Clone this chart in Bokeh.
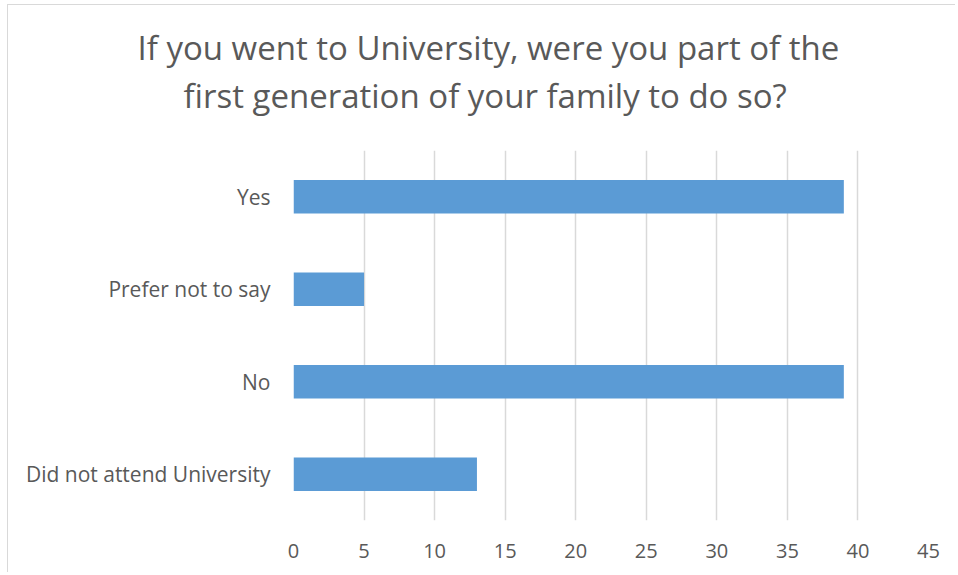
from bokeh.plotting import figure
from bokeh.models import FactorRange, Range1d, FixedTicker, Title
from bokeh.embed import file_html
from bokeh.resources import INLINE

categories = ["Did not attend University", "No", "Prefer not to say", "Yes"]
values = [13, 39, 5, 39]
x_ticks = [0, 5, 10, 15, 20, 25, 30, 35, 40, 45]
title_lines = ["If you went to University, were you part of the",
               "first generation of your family to do so?"]

FONT = "Open Sans"
TXT = "#595959"

p = figure(width=948, height=568, output_backend="svg", toolbar_location=None,
           title=None,
           y_range=FactorRange(factors=categories), x_range=Range1d(0, 45),
           min_border_left=285, min_border_right=28, min_border_top=145,
           min_border_bottom=53)
p.styles = {"margin-left": "7px", "margin-top": "4px",
            "border-left": "1px solid #d9d9d9", "border-top": "1px solid #d9d9d9"}

p.hbar(y=categories, right=values, height=0.36, color="#5b9bd5", line_color=None)
p.outline_line_color = None

# spacer between the title block and the plot area
p.add_layout(Title(text=" ", text_font_size="1px", standoff=29), "above")
# title lines, left-offset so that each is centred over the chart area
offsets = [137 - 293, 183 - 293]
for line, off in reversed(list(zip(title_lines, offsets))):
    p.add_layout(Title(text=line, align="left", offset=off, standoff=1,
                       text_font=FONT, text_font_size="33px",
                       text_font_style="normal", text_color=TXT), "above")

p.xaxis.ticker = FixedTicker(ticks=x_ticks)
p.xaxis.axis_line_color = None
p.xaxis.major_tick_line_color = None
p.xaxis.minor_tick_line_color = None
p.xaxis.major_label_text_font = FONT
p.xaxis.major_label_text_font_size = "20px"
p.xaxis.major_label_text_color = TXT
p.xaxis.major_label_standoff = 17

p.yaxis.axis_line_color = None
p.yaxis.major_tick_line_color = None
p.yaxis.major_label_text_font = FONT
p.yaxis.major_label_text_font_size = "21px"
p.yaxis.major_label_text_color = TXT
p.yaxis.major_label_standoff = 17

p.xgrid.grid_line_color = "#d9d9d9"
p.xgrid.grid_line_width = 1.5
p.ygrid.grid_line_color = None

open("out.html", "w").write(file_html(p, INLINE))
